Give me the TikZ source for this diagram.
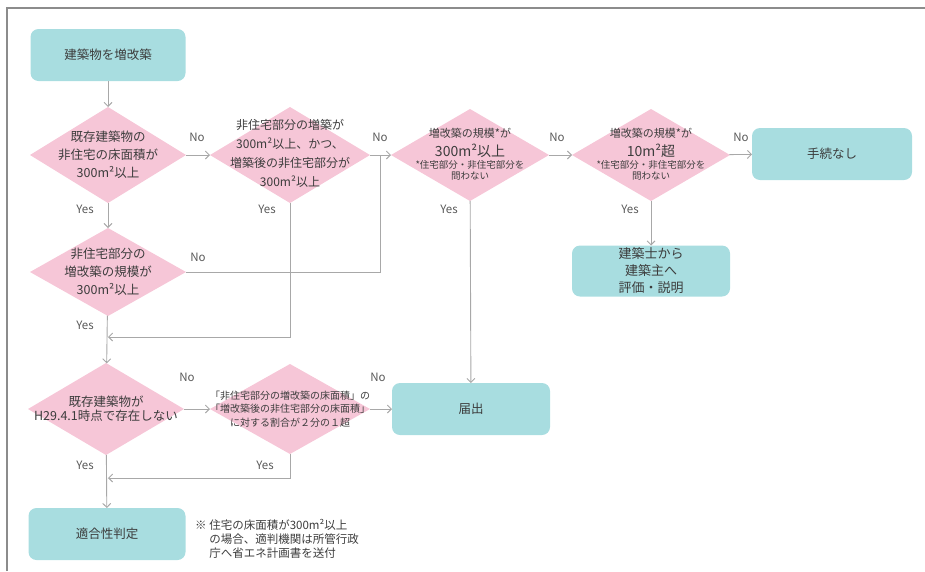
\documentclass[tikz,border=0pt]{standalone}
\usepackage{fontspec}
\setmainfont{Noto Sans CJK JP}
\usetikzlibrary{shapes.geometric,arrows.meta}
\definecolor{tealbox}{HTML}{A8DDE0}
\definecolor{pinkdia}{HTML}{F6C6D7}
\definecolor{arrgray}{HTML}{A8A8A8}
\definecolor{txtgray}{HTML}{3C3C3C}
\definecolor{framegray}{HTML}{8C8C8C}
\begin{document}
\begin{tikzpicture}[x=1pt,y=-1pt,
  every node/.style={text=txtgray},
  fbox/.style={rectangle, rounded corners=8pt, fill=tealbox, draw=none, inner sep=0pt, outer sep=0pt},
  dia/.style={diamond, fill=pinkdia, draw=none, inner sep=0pt, outer sep=0pt},
  main/.style={font=\fontsize{12.5}{18}\selectfont, align=center, inner sep=0pt},
  small/.style={font=\fontsize{9.5}{11}\selectfont, align=center, inner sep=0pt},
  lbl/.style={font=\fontsize{11.5}{13}\selectfont, inner sep=0pt, text=txtgray!85},
  conn/.style={draw=arrgray, line width=0.9pt, -{Straight Barb[length=4pt,width=8pt]}},
  plain/.style={draw=arrgray, line width=0.9pt}
]
\useasboundingbox (0,0) rectangle (925,571);
\draw[framegray, line width=1.5pt] (7,571) -- (7,8) -- (925,8);

% boxes
\node[fbox, minimum width=155, minimum height=52] (start) at (108,55) {};
\node[main] (tstart) at (start) {建築物を増改築};
\node[fbox, minimum width=160, minimum height=52] (none) at (832,154) {};
\node[main] (tnone) at (none) {手続なし};
\node[fbox, minimum width=158, minimum height=51] (expl) at (651,271) {};
\node[main, font=\fontsize{13}{17}\selectfont] (texpl) at (expl) {建築士から\\建築主へ\\評価・説明};
\node[fbox, minimum width=158, minimum height=52] (todo) at (471,409) {};
\node[main] (ttodo) at (todo) {届出};
\node[fbox, minimum width=157, minimum height=52] (tek) at (107,534) {};
\node[main] (ttek) at (tek) {適合性判定};

% diamonds
\node[dia, minimum width=156, minimum height=96] (d1) at (108,155) {};
\node[main] (td1) at (d1) {既存建築物の\\非住宅の床面積が\\300m²以上};
\node[dia, minimum width=160, minimum height=96] (d2) at (290,155) {};
\node[main, font=\fontsize{12}{19}\selectfont] (td2) at (290,153) {非住宅部分の増築が\\300m²以上、かつ、\\増築後の非住宅部分が\\300m²以上};
\node[dia, minimum width=158, minimum height=92] (d3) at (470,155) {};
\node[main, font=\fontsize{11}{13}\selectfont] (td3a) at (470,133) {増改築の規模*が};
\node[main, font=\fontsize{14}{16}\selectfont] (td3b) at (470,151) {300m²以上};
\node[small] (td3c) at (470,170) {*住宅部分・非住宅部分を\\問わない};
\node[dia, minimum width=158, minimum height=92] (d4) at (651,155) {};
\node[main, font=\fontsize{11}{13}\selectfont] (td4a) at (651,133) {増改築の規模*が};
\node[main, font=\fontsize{14}{16}\selectfont] (td4b) at (651,151) {10m²超};
\node[small] (td4c) at (651,170) {*住宅部分・非住宅部分を\\問わない};
\node[dia, minimum width=156, minimum height=88] (d5) at (108,272) {};
\node[main] (td5) at (d5) {非住宅部分の\\増改築の規模が\\300m²以上};
\node[dia, minimum width=156, minimum height=92] (d6) at (106,409) {};
\node[main, font=\fontsize{12.5}{14}\selectfont] (td6) at (d6) {既存建築物が\\H29.4.1時点で存在しない};
\node[dia, minimum width=160, minimum height=90] (d7) at (290,409) {};
\node[main, font=\fontsize{10}{13.5}\selectfont] (td7) at (d7) {「非住宅部分の増改築の床面積」の\\「増改築後の非住宅部分の床面積」\\に対する割合が２分の１超};

% note
\node[anchor=north west, align=left, inner sep=0pt, font=\fontsize{11.5}{14}\selectfont] (note) at (195,519)
  {※ 住宅の床面積が300m²以上\\\phantom{※ }の場合、適判機関は所管行政\\\phantom{※ }庁へ省エネ計画書を送付};

% junctions
\coordinate (j1) at (380,155);
\coordinate (j2) at (108,337);
\coordinate (j3) at (108,478);

% connectors
\draw[conn] (start) -- (d1);
\draw[conn] (d1) -- (d2);
\draw[conn] (d2) -- (d3);
\draw[conn] (d3) -- (d4);
\draw[conn] (d4) -- (none);
\draw[conn] (d4) -- (expl);
\draw[conn] (d3) -- (todo);
\draw[conn] (d1) -- (d5);
\draw[plain] (d5.east) -| (j1);
\draw[conn] (d2.south) |- (j2);
\draw[conn] (d5) -- (d6);
\draw[conn] (d6) -- (d7);
\draw[conn] (d7) -- (todo);
\draw[conn] (d7.south) |- (j3);
\draw[conn] (d6) -- (tek);

% labels
\node[lbl] (n1) at (197,137) {No};
\node[lbl] (n2) at (380,137) {No};
\node[lbl] (n3) at (557,137) {No};
\node[lbl] (n4) at (741,137) {No};
\node[lbl] (n5) at (198,257) {No};
\node[lbl] (n6) at (187,377) {No};
\node[lbl] (n7) at (378,377) {No};
\node[lbl] (y1) at (85,209) {Yes};
\node[lbl] (y2) at (267,209) {Yes};
\node[lbl] (y3) at (449,209) {Yes};
\node[lbl] (y4) at (630,209) {Yes};
\node[lbl] (y5) at (85,325) {Yes};
\node[lbl] (y6) at (85,465) {Yes};
\node[lbl] (y7) at (265,465) {Yes};
\end{tikzpicture}
\end{document}
